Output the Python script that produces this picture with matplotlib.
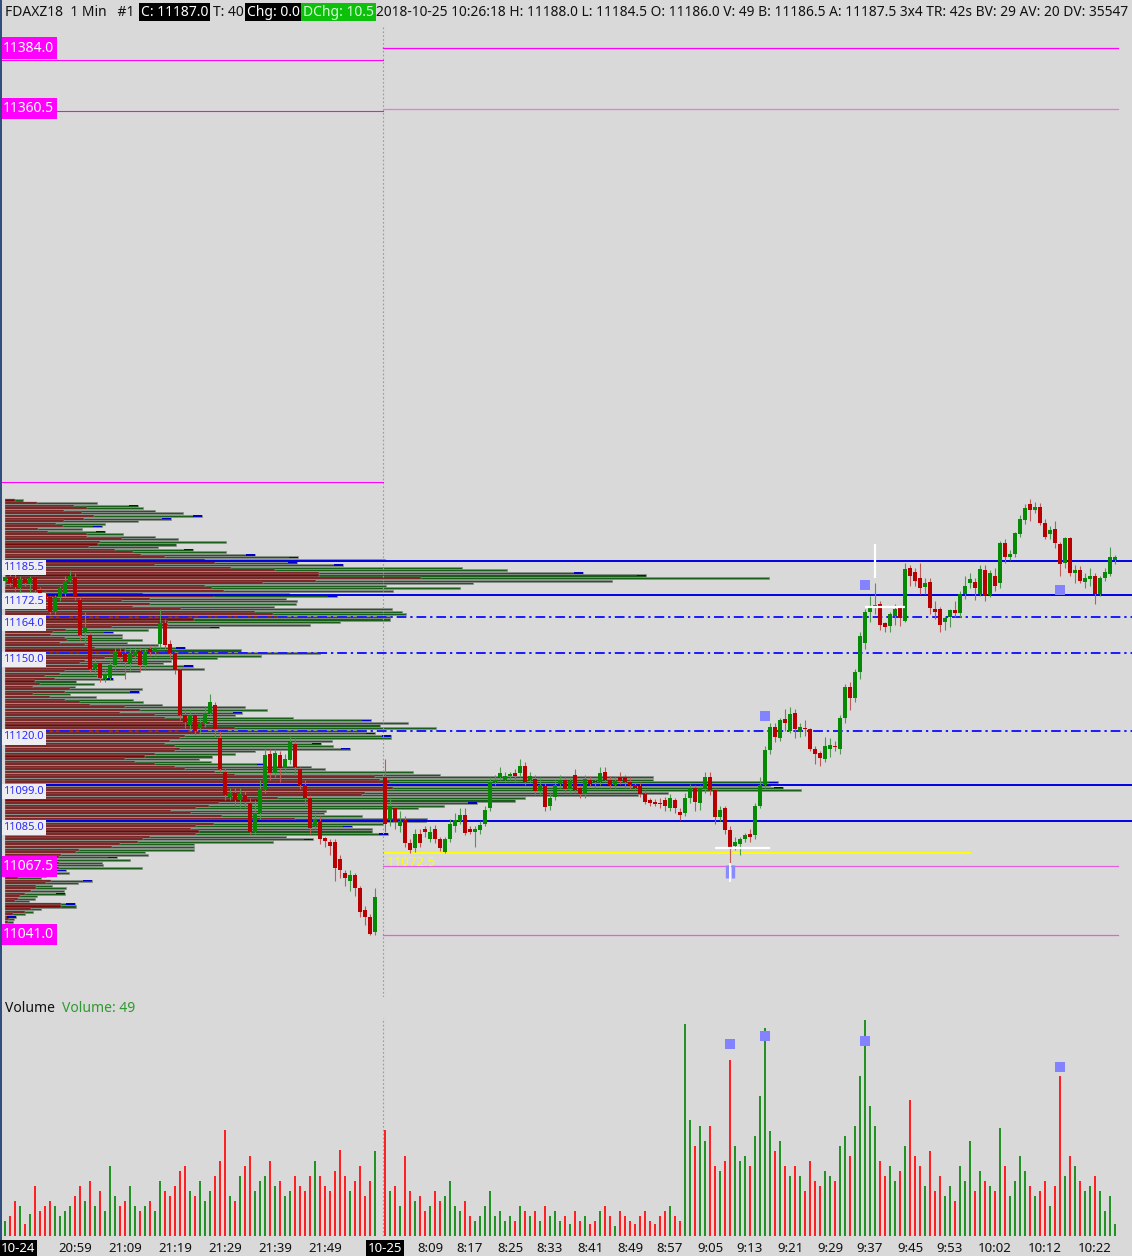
import numpy as np
import pandas as pd
import matplotlib
matplotlib.use("Agg")
import matplotlib.pyplot as plt
from matplotlib.patches import Rectangle
from matplotlib.transforms import blended_transform_factory

plt.rcParams['font.family'] = ['Noto Sans', 'DejaVu Sans']

# ---------------- data ----------------
day1_open = [11178, 11179.5, 11179, 11175, 11178.5, 11177, 11179.5, 11174.5, 11173, 11171.5,
             11166, 11171.5, 11173, 11178, 11179.5, 11170.5, 11158, 11157, 11144, 11146,
             11140, 11140.5, 11145.5, 11150.5, 11150, 11146, 11149, 11151, 11145.5, 11151.5,
             11150.5, 11153.5, 11161.5, 11153.5, 11150, 11143.5, 11126, 11122, 11126, 11121,
             11123, 11127, 11130, 11117, 11104, 11094.5, 11096, 11093, 11095, 11092,
             11081, 11088, 11097, 11111, 11103.5, 11110.5, 11105.5, 11108.5, 11115, 11105,
             11099, 11094, 11083, 11085, 11078.5, 11077, 11077, 11070.5, 11065, 11062,
             11064, 11059, 11050.5, 11048, 11042]
day1_high = [11181, 11181, 11180.5, 11180, 11179, 11180, 11180, 11175.5, 11174, 11172,
             11172.5, 11176, 11180, 11182, 11181, 11171.5, 11166, 11158, 11148, 11147,
             11144, 11147, 11152, 11152, 11152, 11152, 11152, 11152, 11152, 11153,
             11153, 11167, 11163, 11155, 11151, 11144, 11128, 11128, 11127, 11125,
             11129, 11134, 11131, 11120, 11105.5, 11098, 11098, 11098, 11096.5, 11094,
             11093, 11101, 11113.5, 11113, 11113, 11112, 11111, 11118, 11117, 11106,
             11101, 11095, 11088, 11087, 11079, 11078, 11078, 11072, 11066, 11066,
             11065, 11060, 11052, 11049, 11059]
day1_low = [11176, 11176, 11174, 11172.5, 11176, 11172, 11173, 11172, 11169.5, 11165,
            11165, 11170, 11172, 11177.5, 11170.5, 11155, 11154, 11142.5, 11142, 11139,
            11139, 11139.5, 11144, 11147, 11140, 11143, 11147, 11143, 11144, 11149,
            11149, 11152, 11151.5, 11148, 11142, 11124, 11121, 11120.5, 11118.5, 11119,
            11121.5, 11126, 11117.5, 11104, 11093, 11093, 11091, 11090, 11090, 11080,
            11080, 11086, 11096, 11101, 11102, 11100, 11104, 11107, 11103, 11097.5,
            11091, 11080, 11082, 11076, 11075, 11072, 11062, 11063, 11060, 11058,
            11056, 11048, 11045, 11041, 11041]
day1_close = [11179.5, 11177, 11175.5, 11178.5, 11177, 11179, 11174.5, 11173, 11171, 11166,
              11171.5, 11175, 11178, 11180, 11171.5, 11157, 11160, 11144, 11146, 11140.5,
              11142, 11145.5, 11150.5, 11148.5, 11146.5, 11150, 11150.5, 11145.5, 11150.5, 11150.5,
              11152, 11161.5, 11153, 11150, 11143.5, 11126, 11123.5, 11126, 11120, 11123,
              11127, 11131, 11120.5, 11105, 11095, 11096, 11093, 11095.5, 11092.5, 11081,
              11088, 11097.5, 11110.5, 11103.5, 11111.5, 11105.5, 11109, 11115.5, 11106, 11099,
              11094, 11082.5, 11086, 11078, 11077.5, 11075.5, 11067, 11066, 11063, 11064,
              11059, 11050, 11048, 11041.5, 11055.5]
day1_volume = [60, 80, 140, 120, 48, 88, 200, 100, 120, 140,
               120, 80, 100, 120, 160, 200, 140, 220, 120, 180,
               100, 280, 160, 120, 140, 200, 120, 100, 120, 140,
               100, 220, 180, 160, 200, 260, 280, 180, 160, 220,
               140, 180, 240, 300, 424, 160, 140, 240, 280, 320,
               180, 220, 240, 300, 200, 220, 160, 180, 240, 200,
               180, 240, 300, 240, 200, 180, 260, 344, 240, 180,
               220, 280, 160, 220, 340]

day2_open = [11102, 11085.5, 11090, 11083, 11085.5, 11076.5, 11074.5, 11080, 11082, 11078,
             11082, 11078, 11073, 11078, 11083, 11085, 11087.5, 11082, 11081, 11081.5,
             11084, 11090, 11100, 11102, 11101, 11102.5, 11103.5, 11103.5, 11106.5, 11101,
             11101.5, 11096.5, 11098.5, 11091, 11094.5, 11099.5, 11101, 11097.5, 11103, 11098,
             11095.5, 11101, 11100.5, 11100, 11104, 11101, 11099, 11102, 11102, 11100,
             11099, 11098.5, 11095.5, 11093, 11092.5, 11092, 11093, 11090, 11093, 11088.5,
             11088, 11094, 11098, 11092, 11097.5, 11102, 11097, 11086.5, 11090, 11081.5,
             11075.5, 11076, 11078, 11080, 11079.5, 11091, 11099, 11112.5, 11121.5, 11117,
             11124.5, 11120, 11127, 11119.5, 11121, 11120.5, 11113, 11111.5, 11109, 11113,
             11114, 11113, 11125, 11137, 11132.5, 11142.5, 11154, 11166, 11168, 11169,
             11161.5, 11160.5, 11164.5, 11167.5, 11162.5, 11183, 11181.5, 11179, 11175.5, 11177.5,
             11167, 11167, 11162, 11164, 11166.5, 11165.5, 11173, 11177, 11177.5, 11173,
             11182, 11172.5, 11180, 11177, 11192.5, 11187, 11188.5, 11196, 11201.5, 11207.5,
             11205.5, 11206.5, 11200.5, 11196, 11198, 11192, 11185, 11194.5, 11181, 11182,
             11177.5, 11178.5, 11180, 11173, 11179, 11180.5, 11186]
day2_high = [11109, 11094, 11091, 11089, 11087, 11078, 11082, 11082, 11083, 11083,
             11083.5, 11079, 11079, 11086, 11088, 11090, 11090, 11083, 11083, 11085,
             11091, 11102, 11103, 11106, 11104, 11104, 11105, 11109, 11108, 11104,
             11103, 11102, 11100, 11096, 11101, 11103, 11102, 11102, 11105, 11099,
             11103, 11102.5, 11101.5, 11106, 11106, 11102.5, 11102, 11104, 11103, 11102,
             11100, 11100, 11097, 11094, 11093.5, 11094, 11094.5, 11095.5, 11094, 11090,
             11096, 11099.5, 11099, 11099, 11104, 11104, 11098, 11091, 11091, 11083,
             11079, 11079, 11080.5, 11082, 11092, 11102, 11114, 11123, 11123, 11125,
             11128.5, 11129, 11128.5, 11123, 11124, 11121, 11114, 11112, 11117.5, 11117,
             11116, 11126, 11138, 11139, 11144, 11158, 11167, 11172, 11177, 11170,
             11162, 11166, 11169, 11168, 11185, 11184, 11183, 11185, 11179, 11179,
             11170, 11168, 11164.5, 11167, 11170, 11174, 11180, 11181, 11179, 11184,
             11184, 11182, 11183, 11193.5, 11194, 11190, 11197, 11203.5, 11207.5, 11209.5,
             11208.5, 11208, 11202, 11199, 11201, 11193, 11195, 11195, 11184, 11183.5,
             11181, 11183, 11181, 11180, 11183, 11191, 11188]
day2_low = [11081, 11083, 11082, 11081, 11075, 11072.5, 11073, 11075, 11079, 11077,
            11076.5, 11073.5, 11072.5, 11077, 11081, 11084, 11079.5, 11080, 11075, 11080,
            11083, 11089, 11099, 11101, 11100, 11101, 11100, 11102, 11099, 11100,
            11095, 11095, 11089, 11089.5, 11093, 11098, 11096, 11096, 11096, 11094,
            11094, 11098.5, 11098, 11099, 11100, 11098, 11098, 11099.5, 11098, 11097.5,
            11097, 11094.5, 11091.5, 11091, 11091, 11090, 11089, 11089, 11088, 11085.5,
            11087, 11092, 11089, 11089.5, 11096, 11095, 11084, 11085, 11080, 11069,
            11074, 11072, 11077, 11077, 11078, 11090, 11098, 11111, 11115.5, 11116,
            11120, 11119, 11117, 11117.5, 11118, 11112, 11107, 11106.5, 11108, 11110,
            11112, 11111, 11123, 11128, 11131, 11140, 11151.5, 11162, 11165, 11159,
            11158, 11158, 11161, 11160.5, 11162, 11176, 11176, 11173, 11173, 11165,
            11163, 11158, 11159, 11160, 11164, 11164, 11171, 11175, 11170.5, 11172,
            11170, 11171.5, 11174, 11175, 11185, 11186, 11187, 11195, 11200, 11201,
            11204, 11199.5, 11194, 11194, 11190.5, 11180, 11183, 11180, 11177, 11177,
            11175, 11176, 11169, 11172, 11178, 11180, 11184.5]
day2_close = [11084, 11091, 11084.5, 11085, 11076.5, 11074, 11080, 11076.5, 11081, 11081,
              11078, 11074.5, 11078, 11084, 11085.5, 11087.5, 11080.5, 11081, 11082, 11083.5,
              11089.5, 11100, 11101, 11103.5, 11102.5, 11103, 11102.5, 11106.5, 11100, 11102.5,
              11096.5, 11099, 11090.5, 11094, 11099, 11101, 11097.5, 11100.5, 11097, 11095.5,
              11101.5, 11099.5, 11100, 11103.5, 11101, 11099, 11100.5, 11100.5, 11100, 11099,
              11098, 11095.5, 11092.5, 11092, 11091.5, 11091.5, 11091, 11094, 11090, 11087.5,
              11094, 11098, 11092.5, 11098, 11102, 11097, 11086.5, 11089.5, 11081.5, 11075,
              11077, 11078, 11079.5, 11079, 11091, 11099, 11112.5, 11121.5, 11117.5, 11124,
              11123, 11126.5, 11120.5, 11121.5, 11120.5, 11113, 11111, 11109.5, 11114, 11114.5,
              11113.5, 11125, 11137, 11132.5, 11142.5, 11156.5, 11166, 11167.5, 11168.5, 11161,
              11160, 11165, 11167, 11163.5, 11182.5, 11180, 11178, 11175, 11177, 11167.5,
              11166, 11161, 11163.5, 11166.5, 11165.5, 11173, 11176, 11178.5, 11175, 11182.5,
              11172, 11181, 11176, 11192.5, 11187, 11188.5, 11196.5, 11202, 11206, 11205.5,
              11206.5, 11200.5, 11195, 11197.5, 11192.5, 11184.5, 11194.5, 11181, 11182, 11178,
              11179, 11180, 11173, 11179, 11181.5, 11187, 11187]
day2_volume = [424, 180, 200, 120, 320, 180, 140, 160, 100, 120,
               180, 140, 160, 220, 120, 100, 140, 80, 60, 80,
               120, 180, 80, 100, 60, 80, 60, 120, 100, 80,
               100, 60, 120, 80, 100, 60, 80, 48, 100, 60,
               80, 48, 60, 100, 120, 80, 40, 100, 80, 60,
               48, 80, 100, 60, 48, 80, 100, 120, 80, 60,
               848, 464, 360, 440, 380, 440, 280, 260, 300, 704,
               360, 300, 320, 280, 400, 560, 832, 420, 340, 380,
               280, 240, 280, 240, 180, 300, 220, 200, 260, 240,
               220, 360, 400, 320, 440, 640, 864, 520, 440, 300,
               240, 280, 220, 260, 360, 544, 320, 280, 200, 340,
               180, 240, 160, 200, 140, 280, 220, 380, 180, 260,
               220, 200, 180, 432, 280, 160, 220, 320, 260, 200,
               160, 180, 220, 120, 200, 640, 240, 320, 280, 220,
               180, 200, 240, 180, 100, 160, 49]

# volume profile, one row per point from 11209 down to 11046
profile_prices = np.arange(11209, 11045, -1)
profile_total = [18, 92, 133, 138, 150, 178, 197, 166, 133, 100, 97, 77, 100, 118, 150, 173, 221, 171, 153,
                 188, 221, 250, 293, 380, 292, 338, 457, 502, 578, 641, 764,
                 607, 468, 381, 455, 388, 284, 332, 281, 292, 291, 269, 387, 397, 401, 385, 385, 335, 305, 214, 143, 108, 117,
                 117, 137, 122, 153, 180, 236, 315, 256, 212, 166, 158, 188, 199, 135, 120, 92, 108, 71, 89, 70,
                 137, 134, 65, 91, 128, 138, 157, 240, 262, 237, 230, 288, 366, 403, 375, 431, 361, 370, 386, 386,
                 327, 316, 328, 345, 250, 230, 207, 194, 206, 261, 306, 320, 408, 435,
                 648, 648, 773, 765, 778, 796, 663, 633, 520, 510, 472, 439, 413, 321, 319, 357, 422, 421, 378, 347,
                 367, 367, 383, 281, 308, 268, 189, 189, 189, 140, 143, 112, 125, 97, 98, 137, 61, 64, 41, 36,
                 87, 73, 47, 61, 59, 60, 32, 30, 24, 70, 71, 36, 28, 20, 11, 9, 8]
profile_red = [10, 32, 69, 82, 59, 77, 89, 79, 59, 51, 58, 33, 43, 82, 82, 117, 95, 93, 84,
               110, 128, 136, 160, 200, 210, 150, 226, 270, 314, 314, 416,
               311, 258, 200, 207, 219, 138, 209, 145, 117, 145, 128, 176, 250, 268, 273, 189, 163, 163, 107, 61, 48, 46,
               60, 62, 55, 80, 90, 120, 160, 130, 100, 80, 75, 95, 85, 60, 55, 40, 50, 30, 35, 28,
               65, 60, 28, 45, 60, 75, 85, 120, 135, 115, 150, 160, 185, 205, 200, 230, 185, 195, 180, 175,
               165, 160, 170, 175, 170, 150, 140, 120, 130, 150, 170, 180, 210, 230,
               370, 375, 385, 380, 388, 380, 360, 357, 273, 255, 214, 204, 191, 166, 186, 217, 290, 290, 209, 191,
               186, 194, 191, 145, 138, 133, 115, 107, 74, 71, 56, 54, 46, 54, 31, 54, 20, 20, 15, 13,
               46, 41, 31, 31, 26, 20, 15, 13, 10, 56, 56, 26, 20, 8, 5, 4, 3]
profile_blue = [11207, 11203, 11202, 11199, 11197, 11190, 11188, 11187, 11185, 11184, 11181, 11180,
                11172, 11160, 11158, 11152, 11145, 11140, 11135, 11127, 11124, 11119, 11118, 11115,
                11113, 11107, 11100, 11098, 11092, 11085, 11083, 11080, 11078, 11071, 11066, 11062,
                11057, 11053, 11048]

solid_levels = [11185.5, 11172.5, 11099.0, 11085.0]
dashdot_levels = [11164.0, 11150.0, 11120.0]
right_levels = [11384.0, 11360.5, 11067.5, 11041.0]
right_level_colors = ['#ff00ff', '#e27ae2', '#e060e0', '#e060e0']
left_levels = [11379.5, 11359.5, 11216.0]
yellow_level = 11072.5

sig_price_bars = [76, 96, 135]
sig_price_vals = [11125.5, 11176.5, 11174.5]
sig_vol_bars = [69, 76, 96, 135]
sig_vol_vals = [768, 800, 780, 676]

tick_labels = ['20:59', '21:09', '21:19', '21:29', '21:39', '21:49', '8:09', '8:17', '8:25',
               '8:33', '8:41', '8:49', '8:57', '9:05', '9:13', '9:21', '9:29', '9:37',
               '9:45', '9:53', '10:02', '10:12', '10:22']

header_left = 'FDAXZ18  1 Min   #1'
header_c = 'C: 11187.0'
header_t = 'T: 40'
header_chg = 'Chg: 0.0'
header_dchg = 'DChg: 10.5'
header_rest = ('2018-10-25 10:26:18 H: 11188.0 L: 11184.5 O: 11186.0 V: 49 B: 11186.5 '
               'A: 11187.5 3x4 TR: 42s BV: 29 AV: 20 DV: 35547')

# ---------------- layout ----------------
W, H = 1132, 1256
BG = '#d9d9d9'
fig = plt.figure(figsize=(W / 100, H / 100), dpi=100, facecolor=BG)


def rect(top, bot, left=0, right=W):
    return [left / W, 1 - bot / H, (right - left) / W, (bot - top) / H]


P_TOP, P_BOT = 11392.9, 11017.0
XL = (-1, 225.4)

axp = fig.add_axes(rect(25, 997, 5, W))
axp.set_xlim(0, W - 5)
axp.set_ylim(P_BOT, P_TOP)
axp.axis('off')

ax = fig.add_axes(rect(25, 997))
ax.set_xlim(*XL)
ax.set_ylim(P_BOT, P_TOP)
ax.axis('off')

axv = fig.add_axes(rect(1000, 1236))
axv.set_xlim(*XL)
axv.set_ylim(0, 944)
axv.axis('off')

# slots
n1, n2 = len(day1_open), len(day2_open)
x1 = np.arange(n1)
x2 = np.arange(n2) + n1 + 1
xs = np.concatenate([x1, x2])
O = np.array(day1_open + day2_open)
Hh = np.array(day1_high + day2_high)
L = np.array(day1_low + day2_low)
C = np.array(day1_close + day2_close)
V = np.array(day1_volume + day2_volume)
sep = x2[0] - 0.5

# ---------------- volume profile ----------------
tot = np.array(profile_total)
red = np.array(profile_red)
axp.barh(profile_prices, tot, height=0.8, left=0, color='#195e19',
         edgecolor='#8e8e8e', linewidth=0.55, zorder=1)
axp.barh(profile_prices, red, height=0.8, left=0, color='#760808',
         edgecolor='#8e8e8e', linewidth=0.35, zorder=2)
for p in profile_blue:
    t = tot[list(profile_prices).index(p)]
    axp.barh(p, 9, left=t - 9, height=0.55, color='#0000c8', zorder=3)

# ---------------- level lines ----------------
trA = blended_transform_factory(ax.transAxes, ax.transData)
for lv in left_levels:
    ax.plot([XL[0], sep], [lv, lv], color='#ff00ff', lw=0.8, zorder=2)
for lv, col in zip(right_levels, right_level_colors):
    ax.plot([sep, x2[-1] + 0.6], [lv, lv], color=col, lw=0.9, zorder=2)
for lv in solid_levels:
    ax.axhline(lv, color='#0000e6', lw=1.4, zorder=3)
for lv in dashdot_levels:
    ax.axhline(lv, color='#1a1aff', lw=1.4, ls=(0, (5, 2, 1.2, 2)), zorder=3)
ax.plot([x2[0], x2[117]], [yellow_level, yellow_level], color='#ffff00', lw=1.4, zorder=3)
ax.annotate(f'{yellow_level:.1f}', (x2[0], yellow_level), xytext=(1, -1.5),
            textcoords='offset points', ha='left', va='top', color='#ffff00',
            fontsize=9.5, zorder=6)

ax.axvline(sep, color='#9a9a9a', lw=0.8, ls=(0, (1.5, 2)), zorder=1)
axv.plot([sep, sep], [0, 944 * 218 / 236], color='#9a9a9a', lw=0.8, ls=(0, (1.5, 2)))

# ---------------- candles ----------------
for k, o, h, l, c in zip(xs, O, Hh, L, C):
    up = c >= o
    ax.vlines(k, l, h, color='#4f9a4f' if up else '#c25858', lw=0.8, zorder=4)
    ax.add_patch(Rectangle((k - 0.4, min(o, c)), 0.8, max(abs(c - o), 0.55),
                           facecolor='#068a06' if up else '#b80000',
                           edgecolor='none', zorder=5))

# white markers
ax.hlines(11074.6, x2[66], x2[77], color='white', lw=1.6, zorder=6)
ax.vlines(x2[98], 11179, 11192, color='white', lw=1.6, zorder=6)
ax.hlines(11167.8, x2[96], x2[104], color='white', lw=1.6, zorder=6)
ax.vlines([x2[69] - 0.55, x2[69] + 0.55], 11063, 11068, color='#8a8aff', lw=2.4, zorder=6)
ax.vlines(x2[69], 11061.5, 11069, color='white', lw=1.2, zorder=7)
ax.scatter(x2[sig_price_bars], sig_price_vals, marker='s', s=48, color='#8383ff', zorder=7,
           linewidths=0)

# ---------------- labels on price axis ----------------
for lv in solid_levels + dashdot_levels:
    ax.text(3 / W, lv - 0.3, f'{lv:.1f}', transform=trA, ha='left', va='top',
            color='#2a2aff', fontsize=8, zorder=10,
            bbox=dict(boxstyle='square,pad=0.2', facecolor='#eeeef2', edgecolor='none'))
for lv in right_levels:
    ax.text(3 / W, lv, f'{lv:.1f}', transform=trA, ha='left', va='center',
            color='white', fontsize=10, zorder=10,
            bbox=dict(boxstyle='square,pad=0.22', facecolor='#ff00ff', edgecolor='none'))

# ---------------- volume ----------------
vcols = np.where(C >= O, '#1f8f1f', '#ff1c1c')
axv.vlines(xs, 0, V, colors=vcols, lw=1.4)
axv.scatter(x2[sig_vol_bars], sig_vol_vals, marker='s', s=48, color='#8383ff', zorder=5,
            linewidths=0)

fig.text(5 / W, 1 - 1008 / H, 'Volume', fontsize=10, color='#111111', va='center', ha='left')
fig.text(62 / W, 1 - 1008 / H, f'Volume: {day2_volume[-1]}', fontsize=10, color='#2f9a2f',
         va='center', ha='left')

# ---------------- time axis ----------------
t1 = pd.date_range('2018-10-24 20:45', periods=n1, freq='min')
t2 = pd.date_range('2018-10-25 08:00', periods=n2, freq='min')
tstr = [f'{t.hour}:{t.minute:02d}' for t in t1] + [f'{t.hour}:{t.minute:02d}' for t in t2]
trB = blended_transform_factory(axv.transData, fig.transFigure)
ylab = 1 - 1248 / H
for lab in tick_labels:
    k = xs[tstr.index(lab)]
    fig.text(k, ylab, lab, transform=trB, ha='center', va='center', fontsize=9.5, color='#111111')
fig.text(x1[0] - 0.8, ylab, t1[0].strftime('%m-%d'), transform=trB, ha='left', va='center',
         fontsize=9.5, color='white',
         bbox=dict(boxstyle='square,pad=0.15', facecolor='black', edgecolor='none'))
fig.text(x2[0], ylab, t2[0].strftime('%m-%d'), transform=trB, ha='center', va='center',
         fontsize=9.5, color='white',
         bbox=dict(boxstyle='square,pad=0.15', facecolor='black', edgecolor='none'))

# ---------------- header ----------------
yh = 1 - 12 / H
fig.text(5 / W, yh, header_left, fontsize=10, color='#111111', va='center', ha='left')
fig.text(141 / W, yh, header_c, fontsize=10, color='white', va='center', ha='left',
         bbox=dict(boxstyle='square,pad=0.12', facecolor='black', edgecolor='none'))
fig.text(213 / W, yh, header_t, fontsize=10, color='#111111', va='center', ha='left')
fig.text(247 / W, yh, header_chg, fontsize=10, color='white', va='center', ha='left',
         bbox=dict(boxstyle='square,pad=0.12', facecolor='black', edgecolor='none'))
fig.text(303 / W, yh, header_dchg, fontsize=10, color='#d8ffd8', va='center', ha='left',
         bbox=dict(boxstyle='square,pad=0.12', facecolor='#0cc00c', edgecolor='none'))
fig.text(376 / W, yh, header_rest, fontsize=9.9, color='#111111', va='center', ha='left')

# left border
fig.add_artist(plt.Line2D([1.2 / W, 1.2 / W], [0, 1], transform=fig.transFigure,
                          color='#2c4c7c', lw=1.4))

fig.savefig('out.png', dpi=100, facecolor=BG)
